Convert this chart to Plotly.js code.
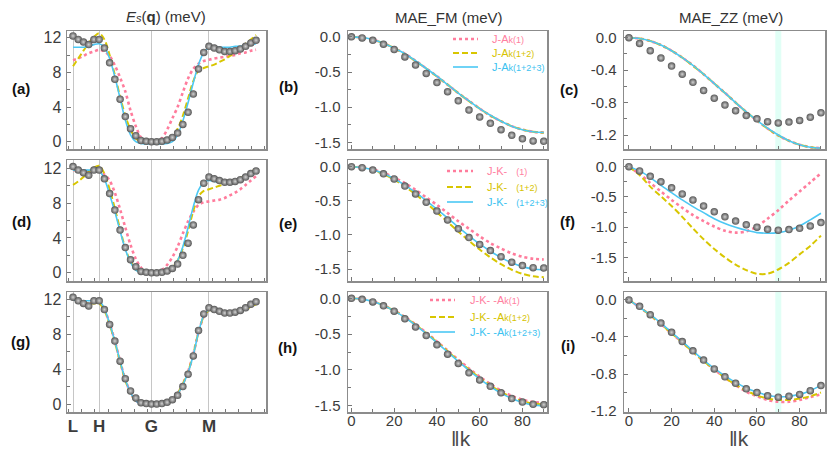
<!DOCTYPE html>
<html><head><meta charset="utf-8">
<script src="https://cdn.plot.ly/plotly-3.0.1.min.js"></script>
<style>html,body{margin:0;padding:0;background:#fff}#chart{width:830px;height:453px}</style>
</head><body><div id="chart"></div>
<script>
// ---------- data ----------
const pathIdx = [0,1,2,3,4,5,6,7,8,9,10,11,12,13,14,15,16,17,18,19,20,21,22,23,24,25,26,27,28,29,30,31,32,33,34,35];
const symIdx = [0,5,15,26];
const symLabels = ['L','H','G','M'];
const kDeg = [0,5,10,15,20,25,30,35,40,45,50,55,60,65,70,75,80,85,90];

// Es(q) DFT points and fits
const esDFT = [12.2,11.8,11.5,11.2,11.8,11.8,10.8,9.1,7.2,4.9,2.9,1.5,0.7,0.15,0.05,0.0,0.0,0.05,0.2,0.5,1.0,2.0,3.4,5.5,8.4,10.3,11.0,10.8,10.6,10.4,10.4,10.5,10.7,11.0,11.4,11.7];
const esA_1   = [9.4,9.6,9.9,10.2,10.4,10.6,10.4,9.9,8.8,7.4,5.8,3.6,1.8,0.5,0.1,0.0,0.0,0.4,1.4,2.7,4.0,5.7,7.3,8.4,9.0,9.3,9.45,9.6,9.7,9.8,9.9,10.0,10.2,10.3,10.5,10.6];
const esA_12  = [8.7,9.6,10.5,11.4,12.1,12.5,11.8,10.0,7.7,5.2,3.0,1.4,0.4,0.0,-0.05,-0.05,-0.05,0.0,0.2,0.6,1.5,3.0,5.0,7.0,8.2,8.5,8.7,8.9,9.2,9.5,9.9,10.3,10.8,11.3,11.8,12.3];
const esA_123 = [10.9,10.9,10.9,11.0,11.2,11.3,10.9,9.6,7.5,5.0,2.5,0.8,0.0,-0.2,-0.25,-0.25,-0.25,-0.25,-0.2,0.0,0.8,2.4,4.5,6.8,8.9,10.3,10.85,10.9,10.9,10.9,10.9,11.0,11.0,11.1,11.2,11.3];
const esD_1   = [11.8,11.8,11.7,11.7,11.7,11.6,11.3,10.6,9.2,7.3,5.2,3.2,1.6,0.6,0.1,0.0,0.05,0.3,0.9,1.8,3.0,4.5,5.9,7.0,7.8,8.1,8.2,8.3,8.4,8.6,8.9,9.2,9.6,10.1,10.6,11.1];
const esD_12  = [10.1,10.5,11.0,11.6,12.1,12.3,11.4,9.6,7.4,5.0,2.8,1.3,0.4,0.05,0.0,0.0,0.0,0.05,0.2,0.6,1.4,2.8,4.8,7.1,8.8,9.4,9.6,9.8,10.0,10.2,10.4,10.6,10.9,11.2,11.6,11.9];
const esD_123 = [11.8,11.8,11.8,11.8,11.8,11.7,10.8,9.0,7.0,4.8,2.7,1.2,0.3,0.0,-0.05,-0.05,-0.05,0.0,0.1,0.5,1.4,3.0,5.2,7.6,9.5,10.4,10.6,10.5,10.4,10.4,10.4,10.5,10.7,10.9,11.2,11.5];
const esG_1   = [12.0,11.8,11.6,11.5,11.6,11.6,10.8,9.2,7.2,4.9,2.8,1.3,0.4,0.05,0.0,0.0,0.0,0.05,0.2,0.5,1.2,2.3,3.7,5.7,8.2,10.0,10.8,10.7,10.5,10.4,10.4,10.5,10.7,10.9,11.2,11.5];
const esG_12  = [11.9,11.8,11.6,11.5,11.5,11.5,10.7,9.1,7.1,4.8,2.7,1.2,0.35,0.0,-0.05,-0.05,-0.05,0.0,0.2,0.5,1.2,2.3,3.7,5.7,8.2,10.0,10.7,10.6,10.5,10.4,10.4,10.4,10.6,10.8,11.1,11.4];
const esG_123 = [11.9,11.8,11.8,11.8,11.8,11.8,10.9,9.2,7.2,4.9,2.8,1.3,0.35,0.0,-0.05,-0.05,-0.05,0.0,0.2,0.5,1.1,2.2,3.6,5.6,8.2,10.1,10.8,10.7,10.5,10.4,10.4,10.5,10.7,10.9,11.2,11.5];

// MAE_FM
const fmDFT   = [0,-0.015,-0.05,-0.105,-0.18,-0.285,-0.40,-0.52,-0.65,-0.78,-0.91,-1.04,-1.14,-1.23,-1.32,-1.40,-1.45,-1.48,-1.485];
const fmB_1   = [0,-0.01,-0.04,-0.09,-0.16,-0.24,-0.34,-0.45,-0.56,-0.68,-0.80,-0.91,-1.02,-1.12,-1.20,-1.27,-1.32,-1.35,-1.36];
const fmB_12  = [0,-0.01,-0.04,-0.09,-0.16,-0.245,-0.345,-0.45,-0.565,-0.68,-0.80,-0.915,-1.02,-1.12,-1.20,-1.27,-1.32,-1.35,-1.365];
const fmB_123 = [0,-0.01,-0.04,-0.09,-0.16,-0.24,-0.34,-0.45,-0.56,-0.68,-0.80,-0.91,-1.02,-1.115,-1.20,-1.27,-1.32,-1.35,-1.36];
const fmE_1   = [0,-0.01,-0.04,-0.09,-0.16,-0.24,-0.34,-0.45,-0.56,-0.68,-0.80,-0.91,-1.02,-1.12,-1.20,-1.27,-1.32,-1.35,-1.36];
const fmE_12  = [0,-0.012,-0.049,-0.109,-0.19,-0.29,-0.405,-0.533,-0.669,-0.81,-0.951,-1.087,-1.215,-1.33,-1.43,-1.511,-1.571,-1.608,-1.62];
const fmE_123 = [0,-0.011,-0.046,-0.101,-0.177,-0.27,-0.378,-0.497,-0.624,-0.755,-0.886,-1.013,-1.133,-1.24,-1.333,-1.409,-1.465,-1.499,-1.51];
const fmH_1   = [0,-0.011,-0.044,-0.098,-0.171,-0.261,-0.365,-0.48,-0.603,-0.73,-0.857,-0.98,-1.095,-1.199,-1.289,-1.362,-1.416,-1.449,-1.46];
const fmH_12  = [0,-0.011,-0.045,-0.099,-0.173,-0.264,-0.37,-0.487,-0.611,-0.74,-0.869,-0.993,-1.11,-1.215,-1.307,-1.381,-1.436,-1.469,-1.48];
const fmH_123 = [0,-0.011,-0.045,-0.1,-0.176,-0.268,-0.375,-0.494,-0.62,-0.75,-0.88,-1.007,-1.125,-1.232,-1.325,-1.4,-1.455,-1.489,-1.5];

// MAE_ZZ
const zzDFT   = [0,-0.07,-0.16,-0.25,-0.35,-0.45,-0.55,-0.65,-0.745,-0.83,-0.90,-0.96,-1.00,-1.035,-1.05,-1.04,-1.02,-0.98,-0.925];
const zzC_1   = [0,-0.01,-0.04,-0.09,-0.16,-0.245,-0.34,-0.45,-0.565,-0.68,-0.80,-0.915,-1.02,-1.12,-1.205,-1.27,-1.32,-1.35,-1.36];
const zzC_12  = [0,-0.01,-0.04,-0.09,-0.16,-0.245,-0.345,-0.45,-0.565,-0.68,-0.80,-0.915,-1.02,-1.12,-1.205,-1.27,-1.32,-1.35,-1.365];
const zzC_123 = [0,-0.01,-0.04,-0.09,-0.16,-0.245,-0.34,-0.45,-0.565,-0.68,-0.80,-0.915,-1.02,-1.115,-1.2,-1.27,-1.32,-1.35,-1.36];
const zzF_1   = [0,-0.12,-0.27,-0.41,-0.55,-0.68,-0.80,-0.90,-0.99,-1.06,-1.09,-1.07,-0.99,-0.86,-0.72,-0.56,-0.41,-0.26,-0.11];
const zzF_12  = [0,-0.14,-0.33,-0.49,-0.65,-0.83,-1.02,-1.20,-1.36,-1.50,-1.62,-1.71,-1.77,-1.77,-1.70,-1.59,-1.45,-1.31,-1.14];
const zzF_123 = [0,-0.07,-0.18,-0.31,-0.43,-0.55,-0.66,-0.76,-0.86,-0.94,-1.00,-1.05,-1.09,-1.10,-1.09,-1.05,-0.98,-0.88,-0.77];
const zzI_1   = [0,-0.08,-0.165,-0.26,-0.36,-0.46,-0.56,-0.66,-0.75,-0.84,-0.92,-0.99,-1.04,-1.08,-1.10,-1.10,-1.08,-1.05,-1.02];
const zzI_12  = [0,-0.08,-0.165,-0.26,-0.36,-0.46,-0.56,-0.66,-0.75,-0.84,-0.915,-0.98,-1.03,-1.065,-1.08,-1.08,-1.065,-1.04,-1.0];
const zzI_123 = [0,-0.08,-0.16,-0.25,-0.35,-0.45,-0.55,-0.65,-0.74,-0.82,-0.89,-0.95,-0.995,-1.03,-1.045,-1.04,-1.02,-0.98,-0.92];

// tick labels
const esTickVals = [0,4,8,12];
const esTickText = ['0','4','8','12'];
const fmTickVals = [0,-0.5,-1,-1.5];
const fmTickText = ['0.0','-0.5','-1.0','-1.5'];
const zzTickVals = [0,-0.4,-0.8,-1.2];
const zzTickText = ['0.0','-0.4','-0.8','-1.2'];
const kTickVals = [0,20,40,60,80];
const kTickText = ['0','20','40','60','80'];

// legend texts
const sm = s => '<span style="font-size:9px">' + s + '</span>';
const legB = ['J-A' + sm('k(1)'), 'J-A' + sm('k(1+2)'), 'J-A' + sm('k(1+2+3)')];
const legE = ['J-K-\u00a0\u00a0\u00a0' + sm('(1)'), 'J-K-\u00a0\u00a0\u00a0' + sm('(1+2)'), 'J-K-\u00a0\u00a0\u00a0' + sm('(1+2+3)')];
const legH = ['J-K-\u00a0-A' + sm('k(1)'), 'J-K-\u00a0-A' + sm('k(1+2)'), 'J-K-\u00a0-A' + sm('k(1+2+3)')];

// ---------- styles ----------
const W = 830, H = 453;
const FONT = 'Liberation Sans, Arial, sans-serif';
const fitStyles = [
  {color:'#ff7c9c', width:2.6, dash:'dot'},
  {color:'#d8c600', width:2, dash:'6px,3px'},
  {color:'#4cc8f4', width:1.6, dash:'solid'}
];
const legColors = ['#ff80a0', '#d6c300', '#3cc2f0'];
const colPx = [[67,266],[348,547],[624,825]];
const rowPx = [[31,149],[160,281],[292,412]];
const xRanges = [[-1.15,36.9],[-1.6,91.5],[-2.3,91.9]];

const panels = [
  {x:pathIdx, dft:esDFT, fits:[esA_1,esA_12,esA_123], yr:[-0.84,12.77], tv:esTickVals, tt:esTickText, md:2},
  {x:kDeg, dft:fmDFT, fits:[fmB_1,fmB_12,fmB_123], yr:[-1.595,0.083], tv:fmTickVals, tt:fmTickText, md:0.25},
  {x:kDeg, dft:zzDFT, fits:[zzC_1,zzC_12,zzC_123], yr:[-1.372,0.083], tv:zzTickVals, tt:zzTickText, md:0.2},
  {x:pathIdx, dft:esDFT, fits:[esD_1,esD_12,esD_123], yr:[-0.95,12.96], tv:esTickVals, tt:esTickText, md:2},
  {x:kDeg, dft:fmDFT, fits:[fmE_1,fmE_12,fmE_123], yr:[-1.676,0.098], tv:fmTickVals, tt:fmTickText, md:0.25},
  {x:kDeg, dft:zzDFT, fits:[zzF_1,zzF_12,zzF_123], yr:[-1.89,0.11], tv:fmTickVals, tt:fmTickText, md:0.25},
  {x:pathIdx, dft:esDFT, fits:[esG_1,esG_12,esG_123], yr:[-0.91,12.8], tv:esTickVals, tt:esTickText, md:2},
  {x:kDeg, dft:fmDFT, fits:[fmH_1,fmH_12,fmH_123], yr:[-1.588,0.088], tv:fmTickVals, tt:fmTickText, md:0.25},
  {x:kDeg, dft:zzDFT, fits:[zzI_1,zzI_12,zzI_123], yr:[-1.21,0.085], tv:zzTickVals, tt:zzTickText, md:0.2}
];

const traces = [];
const layout = {
  width:W, height:H, margin:{l:0,r:0,t:0,b:0},
  paper_bgcolor:'#fff', plot_bgcolor:'#fff', showlegend:false,
  font:{family:FONT, color:'#333'},
  shapes:[], annotations:[]
};

panels.forEach((p, i) => {
  const row = Math.floor(i/3), col = i%3, n = i+1, s = n===1 ? '' : String(n);
  const xa = 'x'+s, ya = 'y'+s;
  p.fits.forEach((f, j) => {
    traces.push({type:'scatter', mode:'lines', x:p.x, y:f, xaxis:xa, yaxis:ya,
      line:Object.assign({shape:'spline', smoothing:0.9}, fitStyles[j]), hoverinfo:'skip'});
  });
  traces.push({type:'scatter', mode:'markers', x:p.x, y:p.dft, xaxis:xa, yaxis:ya,
    marker:{size: col===0 ? 7.5 : 7.5, color:'#555555', gradient:{type:'radial', color:'#d2d2d2'}, line:{width:0}}, hoverinfo:'skip'});

  const common = {showline:true, mirror:true, linecolor:'#8c8c8c', linewidth:1.5, zeroline:false, fixedrange:true};
  let xaxis;
  if (col === 0) {
    xaxis = Object.assign({}, common, {
      tickmode:'array', tickvals:symIdx, ticktext:symLabels, ticks:'',
      showgrid:true, gridcolor:'#c6c6c6', gridwidth:1,
      minor:{ticks:'inside', dtick:2.5, tick0:-0.8, ticklen:3, tickcolor:'#777', showgrid:false},
      showticklabels: row===2, tickfont:{family:FONT, size:17, color:'#3c3c3c', weight:'bold'}, ticklabelstandoff:-2
    });
  } else {
    xaxis = Object.assign({}, common, {
      tickmode:'array', tickvals:kTickVals, ticktext:kTickText, ticks:'inside', ticklen:4, tickcolor:'#777',
      showgrid:false, minor:{ticks:'inside', dtick:10, tick0:0, ticklen:3, tickcolor:'#777', showgrid:false},
      showticklabels: row===2, tickfont:{family:FONT, size:15, color:'#3c3c3c'}, ticklabelstandoff:-6
    });
  }
  xaxis.domain = [colPx[col][0]/W, colPx[col][1]/W];
  xaxis.range = xRanges[col];
  xaxis.anchor = ya;
  const yaxis = Object.assign({}, common, {
    domain:[1-rowPx[row][1]/H, 1-rowPx[row][0]/H], range:p.yr, anchor:xa,
    tickmode:'array', tickvals:p.tv, ticktext:p.tt, ticks:'inside', ticklen:4, tickcolor:'#777',
    minor:{ticks:'inside', dtick:p.md, tick0:0, ticklen:3, tickcolor:'#777', showgrid:false},
    showgrid:false, tickfont:{family:FONT, size: col===0 ? 16 : 15, color:'#3c3c3c'}, ticklabelstandoff: col===0 ? 1 : 3
  });
  layout['xaxis'+s] = xaxis;
  layout['yaxis'+s] = yaxis;

  if (col === 2) {
    layout.shapes.push({type:'rect', layer:'below', xref:xa, yref:ya+' domain', x0:68.6, x1:71.4, y0:0, y1:1,
      fillcolor:'rgba(205,255,240,0.6)', line:{width:0}});
  }
});

// panel labels
const panelLabels = ['(a)','(b)','(c)','(d)','(e)','(f)','(g)','(h)','(i)'];
const labelPos = [[21,88],[288,87],[569,89],[21,221],[288,223],[567,221],[20,341],[287,347],[568,345]];
panelLabels.forEach((t, i) => {
  layout.annotations.push({xref:'paper', yref:'paper', x:labelPos[i][0]/W, y:1-labelPos[i][1]/H,
    xanchor:'center', yanchor:'middle', showarrow:false, text:'<b>'+t+'</b>', font:{family:FONT, size:15, color:'#111'}});
});
// column titles
const colTitles = ['<i>E</i><i><span style="font-size:11px">s</span></i>(<b>q</b>) (meV)', 'MAE_FM (meV)', 'MAE_ZZ (meV)'];
const titlePos = [[166,17],[449,18],[731,18]];
colTitles.forEach((t, i) => {
  layout.annotations.push({xref:'paper', yref:'paper', x:titlePos[i][0]/W, y:1-titlePos[i][1]/H,
    xanchor:'center', yanchor:'middle', showarrow:false, text:t, font:{family:FONT, size:15, color:'#333'}});
});
// x-axis titles
[[461,438],[739,438]].forEach(pos => {
  layout.annotations.push({xref:'paper', yref:'paper', x:pos[0]/W, y:1-pos[1]/H, xanchor:'center', yanchor:'middle',
    showarrow:false, text:'‖k', font:{family:FONT, size:21, color:'#4a4a4a'}});
});
// legends (drawn manually for compact rows)
const legends = [
  {texts:legB, line:[453,478], tx:490, rows:[39,53,67]},
  {texts:legE, line:[447,473], tx:485, rows:[171,187,202]},
  {texts:legH, line:[430,455], tx:468, rows:[300,317,332]}
];
legends.forEach(L => {
  L.texts.forEach((t, j) => {
    const yy = 1 - L.rows[j]/H;
    layout.shapes.push({type:'line', xref:'paper', yref:'paper', x0:L.line[0]/W, x1:L.line[1]/W, y0:yy, y1:yy,
      line:{color:fitStyles[j].color, width:fitStyles[j].width, dash:fitStyles[j].dash}});
    layout.annotations.push({xref:'paper', yref:'paper', x:L.tx/W, y:yy, xanchor:'left', yanchor:'middle',
      showarrow:false, text:t, font:{family:FONT, size:11, color:legColors[j]}});
  });
});

Plotly.newPlot('chart', traces, layout, {displayModeBar:false, staticPlot:true});
</script>
</body></html>
